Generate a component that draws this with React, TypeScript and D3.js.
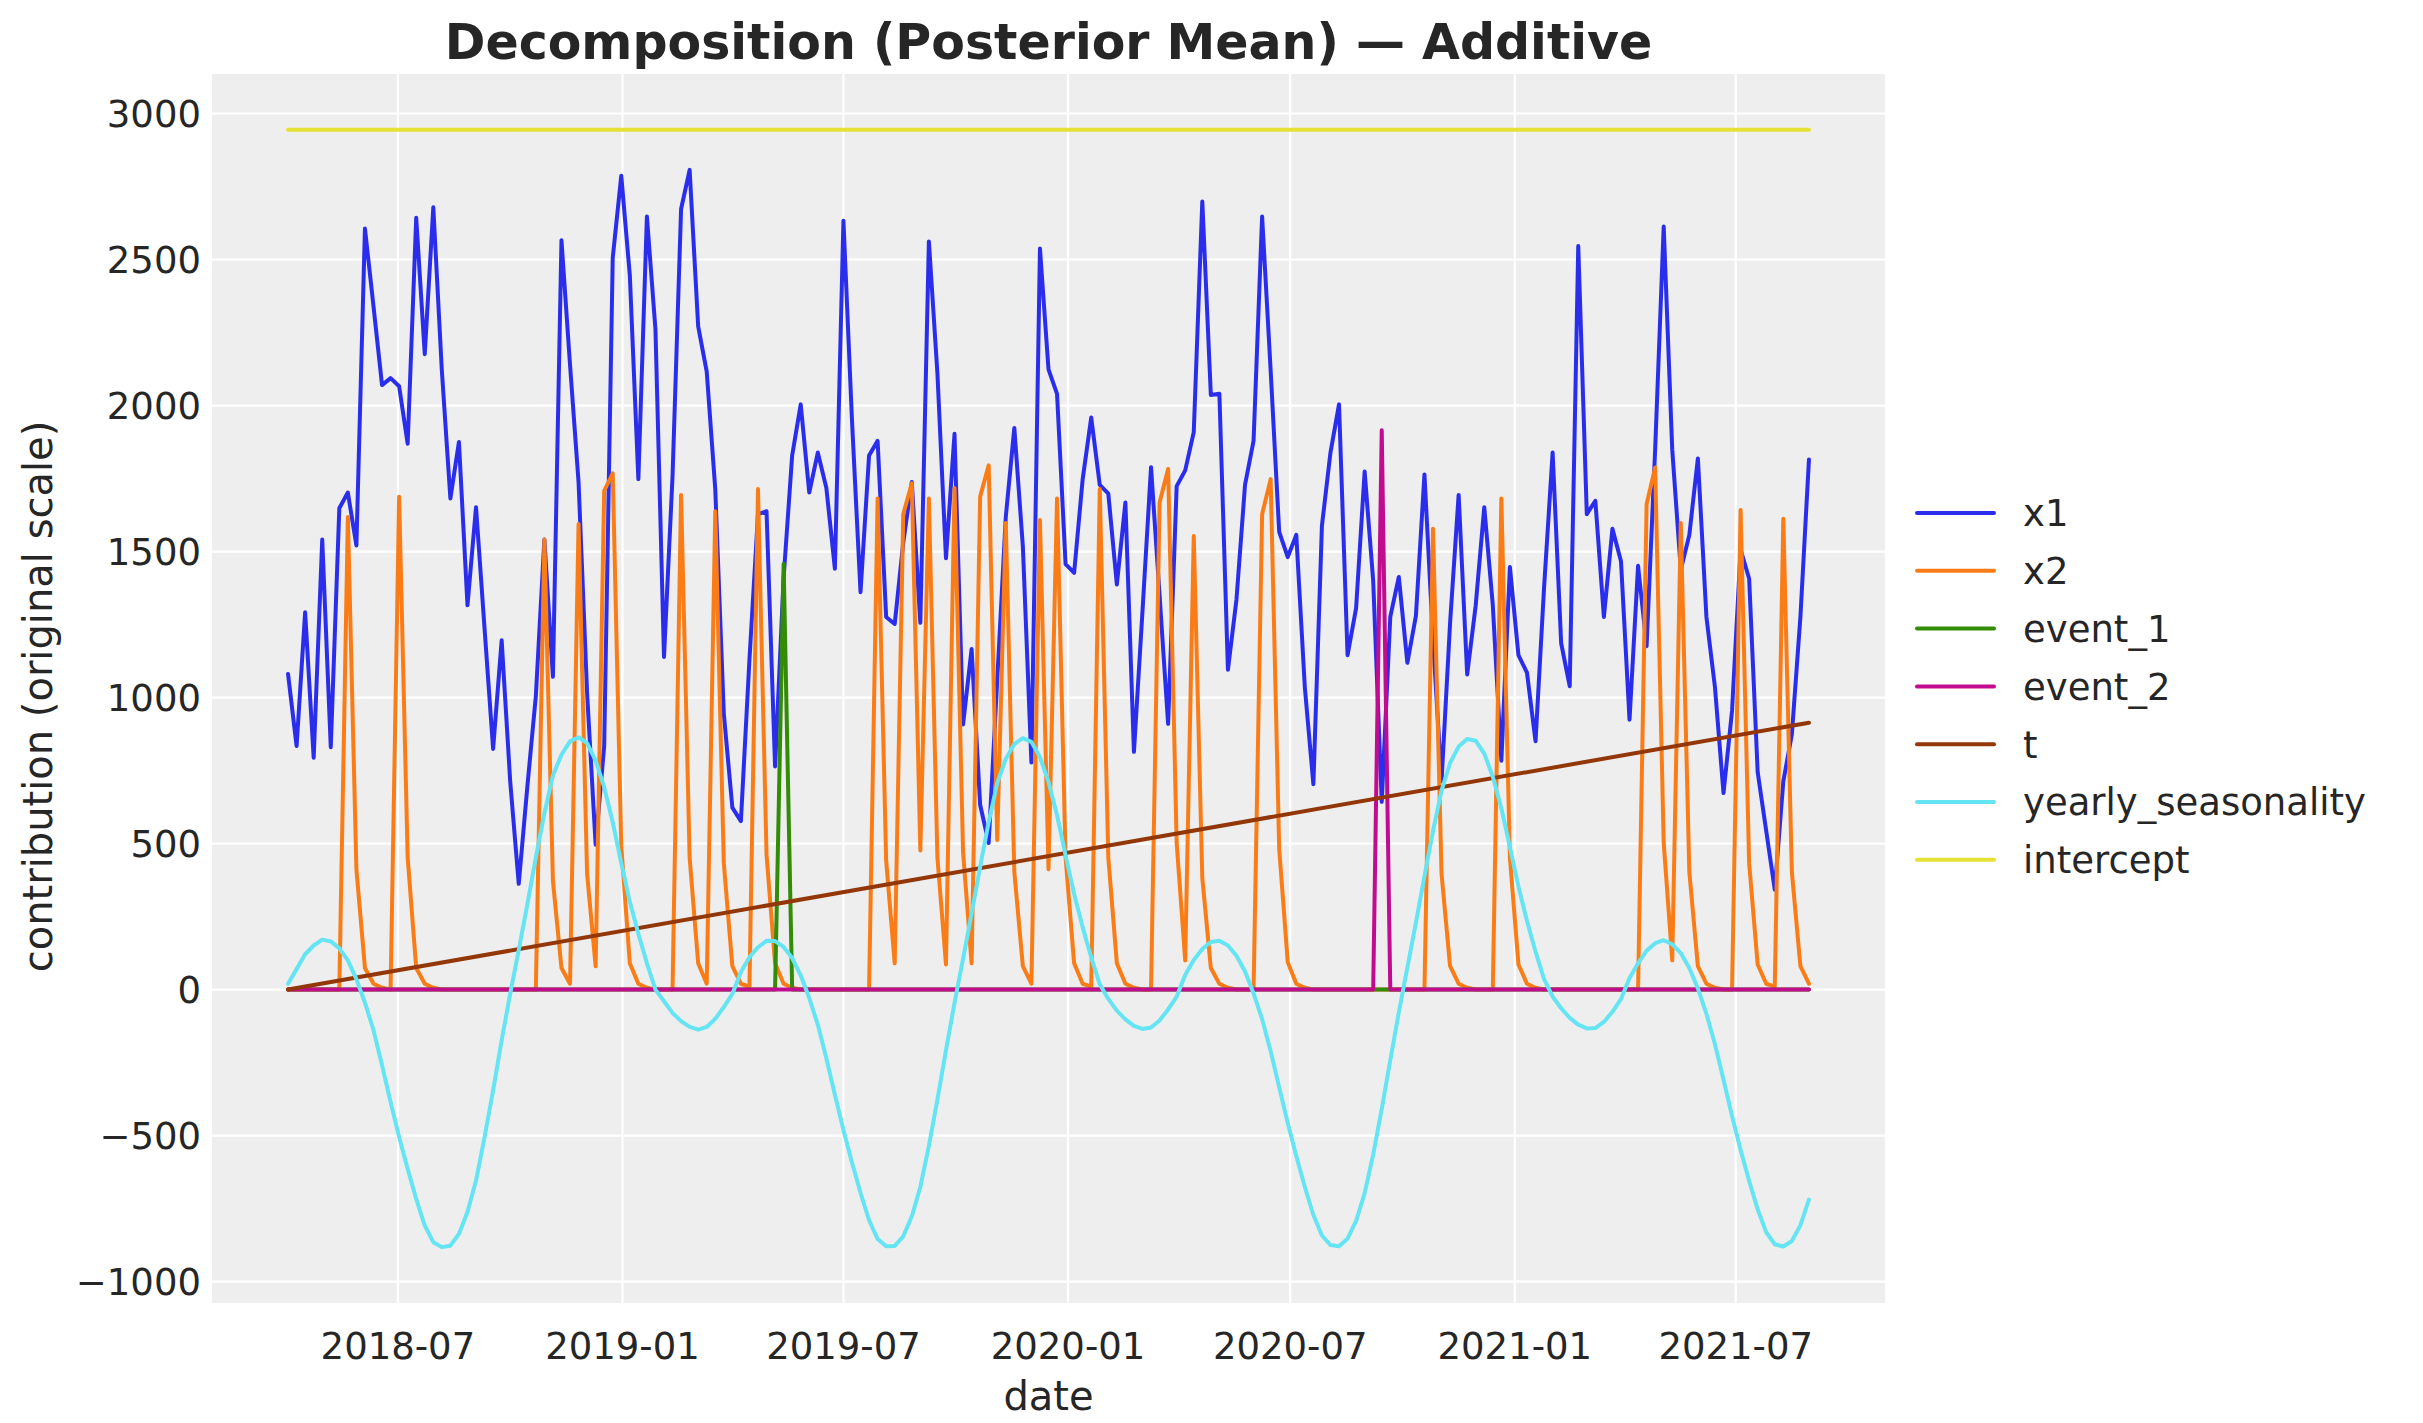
import React from 'react';
import * as d3 from 'd3';

// ---------- data ----------
const START_DATE = Date.UTC(2018, 3, 2); // 2018-04-02, weekly (Monday)
const N_WEEKS = 179;
const DATES: Date[] = d3.range(N_WEEKS).map((i) => new Date(START_DATE + i * 7 * 86400000));

const X1 = [
  1081, 834, 1292, 794, 1541, 830, 1648, 1702, 1521, 2606,
  2340, 2070, 2094, 2066, 1869, 2643, 2176, 2679, 2120, 1682,
  1875, 1316, 1652, 1236, 824, 1196, 713, 362, 693, 1005,
  1541, 1071, 2566, 2140, 1738, 1015, 496, 834, 2506, 2787,
  2446, 1748, 2647, 2261, 1139, 1758, 2673, 2807, 2271, 2116,
  1714, 945, 623, 577, 1130, 1628, 1638, 764, 1410, 1829,
  2004, 1702, 1839, 1718, 1441, 2633, 1950, 1361, 1829, 1879,
  1276, 1252, 1530, 1738, 1256, 2562, 2110, 1477, 1903, 908,
  1166, 633, 502, 1060, 1618, 1923, 1517, 778, 2538, 2124,
  2040, 1457, 1427, 1748, 1959, 1728, 1698, 1387, 1668, 814,
  1296, 1789, 1350, 910, 1724, 1778, 1909, 2699, 2036, 2040,
  1095, 1336, 1728, 1879, 2647, 2120, 1567, 1481, 1557, 1035,
  703, 1588, 1839, 2004, 1145, 1306, 1774, 1400, 643, 1276,
  1413, 1119, 1280, 1764, 1200, 713, 1256, 1694, 1079, 1316,
  1652, 1316, 784, 1447, 1145, 1085, 850, 1377, 1839, 1186,
  1039, 2546, 1628, 1674, 1276, 1578, 1467, 924, 1451, 1176,
  1850, 2613, 1849, 1437, 1557, 1819, 1276, 1035, 673, 955,
  1507, 1407, 744, 543, 342, 713, 874, 1276, 1815,
];

const X2 = [
  0, 0, 0, 0, 0, 0, 0, 1618, 412, 74,
  20, 6, 0, 1688, 452, 74, 20, 6, 0, 0,
  0, 0, 0, 0, 0, 0, 0, 0, 0, 0,
  1541, 372, 74, 20, 1594, 396, 80, 1708, 1768, 492,
  90, 20, 6, 0, 0, 0, 1694, 452, 90, 20,
  1638, 432, 80, 20, 10, 1714, 462, 90, 20, 6,
  0, 0, 0, 0, 0, 0, 0, 0, 0, 1682,
  442, 90, 1628, 1734, 476, 1682, 452, 86, 1718, 472,
  90, 1688, 1795, 512, 1598, 402, 80, 20, 1608, 412,
  1682, 452, 90, 20, 10, 1714, 452, 90, 20, 6,
  0, 0, 1668, 1783, 502, 100, 1553, 382, 74, 20,
  6, 0, 0, 0, 1628, 1748, 482, 94, 20, 6,
  0, 0, 0, 0, 0, 0, 0, 0, 0, 0,
  0, 0, 0, 0, 1578, 396, 80, 20, 6, 0,
  0, 0, 1682, 452, 86, 20, 6, 0, 0, 0,
  0, 0, 0, 0, 0, 0, 0, 0, 0, 1662,
  1788, 502, 100, 1598, 402, 80, 20, 6, 0, 0,
  1642, 432, 86, 20, 10, 1612, 402, 80, 20,
];

const EVENT_1 = [
  0, 0, 0, 0, 0, 0, 0, 0, 0, 0, 0, 0, 0, 0, 0, 0, 0, 0, 0, 0,
  0, 0, 0, 0, 0, 0, 0, 0, 0, 0, 0, 0, 0, 0, 0, 0, 0, 0, 0, 0,
  0, 0, 0, 0, 0, 0, 0, 0, 0, 0, 0, 0, 0, 0, 0, 0, 0, 0, 1457, 0,
  0, 0, 0, 0, 0, 0, 0, 0, 0, 0, 0, 0, 0, 0, 0, 0, 0, 0, 0, 0,
  0, 0, 0, 0, 0, 0, 0, 0, 0, 0, 0, 0, 0, 0, 0, 0, 0, 0, 0, 0,
  0, 0, 0, 0, 0, 0, 0, 0, 0, 0, 0, 0, 0, 0, 0, 0, 0, 0, 0, 0,
  0, 0, 0, 0, 0, 0, 0, 0, 0, 0, 0, 0, 0, 0, 0, 0, 0, 0, 0, 0,
  0, 0, 0, 0, 0, 0, 0, 0, 0, 0, 0, 0, 0, 0, 0, 0, 0, 0, 0, 0,
  0, 0, 0, 0, 0, 0, 0, 0, 0, 0, 0, 0, 0, 0, 0, 0, 0, 0, 0,
];

const EVENT_2 = [
  0, 0, 0, 0, 0, 0, 0, 0, 0, 0, 0, 0, 0, 0, 0, 0, 0, 0, 0, 0,
  0, 0, 0, 0, 0, 0, 0, 0, 0, 0, 0, 0, 0, 0, 0, 0, 0, 0, 0, 0,
  0, 0, 0, 0, 0, 0, 0, 0, 0, 0, 0, 0, 0, 0, 0, 0, 0, 0, 0, 0,
  0, 0, 0, 0, 0, 0, 0, 0, 0, 0, 0, 0, 0, 0, 0, 0, 0, 0, 0, 0,
  0, 0, 0, 0, 0, 0, 0, 0, 0, 0, 0, 0, 0, 0, 0, 0, 0, 0, 0, 0,
  0, 0, 0, 0, 0, 0, 0, 0, 0, 0, 0, 0, 0, 0, 0, 0, 0, 0, 0, 0,
  0, 0, 0, 0, 0, 0, 0, 0, 1915, 0, 0, 0, 0, 0, 0, 0, 0, 0, 0, 0,
  0, 0, 0, 0, 0, 0, 0, 0, 0, 0, 0, 0, 0, 0, 0, 0, 0, 0, 0, 0,
  0, 0, 0, 0, 0, 0, 0, 0, 0, 0, 0, 0, 0, 0, 0, 0, 0, 0, 0,
];

const YEARLY_SEASONALITY = [
  20, 70, 121, 151, 171, 165, 141, 100, 36, -45,
  -139, -259, -385, -505, -614, -717, -808, -865, -882, -877,
  -837, -762, -654, -505, -345, -174, -14, 135, 291, 452,
  603, 733, 804, 850, 864, 844, 784, 693, 573, 432,
  301, 191, 90, 0, -40, -80, -108, -128, -137, -128,
  -100, -60, -15, 60, 111, 145, 167, 166, 146, 108,
  49, -29, -120, -235, -360, -481, -592, -696, -790, -854,
  -879, -878, -845, -777, -676, -535, -377, -208, -46, 105,
  260, 420, 573, 707, 790, 841, 861, 848, 796, 711,
  597, 460, 327, 213, 110, 18, -32, -72, -102, -124,
  -135, -130, -106, -68, -24, 50, 101, 139, 163, 167,
  151, 116, 62, -13, -101, -211, -335, -457, -570, -676,
  -772, -842, -875, -879, -853, -792, -697, -565, -409, -242,
  -78, 75, 229, 388, 543, 681, 776, 832, 858, 852,
  808, 729, 621, 488, 353, 235, 130, 36, -24, -64,
  -97, -120, -133, -132, -111, -76, -33, 40, 90, 133,
  159, 169, 155, 125, 74, 4, -83, -187, -309, -433,
  -549, -655, -753, -831, -872, -880, -861, -807, -719,
];

// linear trend and constant intercept: first and last week
const TREND_VALUES = [0, 914];
const INTERCEPT_VALUES = [2944, 2944];

const SERIES_NAMES = ['x1', 'x2', 'event_1', 'event_2', 't', 'yearly_seasonality', 'intercept'];
const SERIES_COLORS = ['#2a2eec', '#fa7c17', '#328c06', '#c10c90', '#933708', '#65e5f3', '#e6e135'];

const Y_TICKS = [-1000, -500, 0, 500, 1000, 1500, 2000, 2500, 3000];
const X_TICKS = ['2018-07-01', '2019-01-01', '2019-07-01', '2020-01-01', '2020-07-01', '2021-01-01', '2021-07-01'];

const TITLE = 'Decomposition (Posterior Mean) \u2014 Additive';
const X_LABEL = 'date';
const Y_LABEL = 'contribution (original scale)';

// ---------- layout ----------
const W = 2423;
const H = 1423;
const PLOT = { left: 212, right: 1885, top: 74, bottom: 1303 };
const FONT = '"DejaVu Sans", Verdana, sans-serif';
const TEXT_COLOR = '#262626';

export default function App() {
  const t0 = DATES[0].getTime();
  const t1 = DATES[DATES.length - 1].getTime();
  const xPad = (t1 - t0) * 0.05;
  const x = d3
    .scaleUtc()
    .domain([new Date(t0 - xPad), new Date(t1 + xPad)])
    .range([PLOT.left, PLOT.right]);

  const allVals = [...X1, ...X2, ...EVENT_1, ...EVENT_2, ...TREND_VALUES, ...YEARLY_SEASONALITY, ...INTERCEPT_VALUES];
  const vMin = d3.min(allVals) as number;
  const vMax = d3.max(allVals) as number;
  const yPad = (vMax - vMin) * 0.05;
  const y = d3.scaleLinear().domain([vMin - yPad, vMax + yPad]).range([PLOT.bottom, PLOT.top]);

  const weekly = (vals: number[]) =>
    d3
      .line<number>()
      .x((_, i) => x(DATES[i]))
      .y((d) => y(d))(vals) as string;
  const endpoints = (vals: number[]) =>
    d3
      .line<number>()
      .x((_, i) => x(i === 0 ? DATES[0] : DATES[DATES.length - 1]))
      .y((d) => y(d))(vals) as string;

  const paths = [
    weekly(X1),
    weekly(X2),
    weekly(EVENT_1),
    weekly(EVENT_2),
    endpoints(TREND_VALUES),
    weekly(YEARLY_SEASONALITY),
    endpoints(INTERCEPT_VALUES),
  ];

  const fmtTick = (v: number) => (v < 0 ? '\u2212' + Math.abs(v) : String(v));
  const fmtDate = d3.utcFormat('%Y-%m');
  const xTickDates = X_TICKS.map((s) => new Date(s + 'T00:00:00Z'));

  const legendX = 1917;
  const legendY0 = 513;
  const legendStep = 57.8;

  return (
    <svg
      width={W}
      height={H}
      viewBox={`0 0 ${W} ${H}`}
      style={{ position: 'absolute', left: 0, top: 0, background: '#ffffff' }}
      fontFamily={FONT}
    >
      <defs>
        <clipPath id="plotclip">
          <rect x={PLOT.left} y={PLOT.top} width={PLOT.right - PLOT.left} height={PLOT.bottom - PLOT.top} />
        </clipPath>
      </defs>
      <rect x={0} y={0} width={W} height={H} fill="#ffffff" />
      <rect
        x={PLOT.left}
        y={PLOT.top}
        width={PLOT.right - PLOT.left}
        height={PLOT.bottom - PLOT.top}
        fill="#eeeeee"
      />
      {/* grid */}
      {Y_TICKS.map((v) => (
        <line key={'gy' + v} x1={PLOT.left} x2={PLOT.right} y1={y(v)} y2={y(v)} stroke="#ffffff" strokeWidth={2.2} />
      ))}
      {xTickDates.map((d, i) => (
        <line key={'gx' + i} x1={x(d)} x2={x(d)} y1={PLOT.top} y2={PLOT.bottom} stroke="#ffffff" strokeWidth={2.2} />
      ))}
      {/* series */}
      <g clipPath="url(#plotclip)">
        {paths.map((p, i) => (
          <path
            key={SERIES_NAMES[i]}
            d={p}
            fill="none"
            stroke={SERIES_COLORS[i]}
            strokeWidth={4}
            strokeLinejoin="round"
            strokeLinecap="round"
          />
        ))}
      </g>
      {/* y tick labels */}
      {Y_TICKS.map((v) => (
        <text
          key={'ty' + v}
          x={PLOT.left - 11}
          y={y(v)}
          dy="0.36em"
          textAnchor="end"
          fontSize={37}
          fill={TEXT_COLOR}
        >
          {fmtTick(v)}
        </text>
      ))}
      {/* x tick labels */}
      {xTickDates.map((d, i) => (
        <text key={'tx' + i} x={x(d)} y={PLOT.bottom + 56} textAnchor="middle" fontSize={37} fill={TEXT_COLOR}>
          {fmtDate(d)}
        </text>
      ))}
      {/* axis labels */}
      <text x={(PLOT.left + PLOT.right) / 2} y={1410} textAnchor="middle" fontSize={40} fill={TEXT_COLOR}>
        {X_LABEL}
      </text>
      <text
        transform={`translate(52, ${(PLOT.top + PLOT.bottom) / 2 + 8}) rotate(-90)`}
        textAnchor="middle"
        fontSize={40}
        fill={TEXT_COLOR}
      >
        {Y_LABEL}
      </text>
      {/* title */}
      <text x={(PLOT.left + PLOT.right) / 2} y={59} textAnchor="middle" fontSize={49} fontWeight="bold" fill={TEXT_COLOR}>
        {TITLE}
      </text>
      {/* legend */}
      {SERIES_NAMES.map((name, i) => (
        <g key={'lg' + name}>
          <line
            x1={legendX}
            x2={legendX + 77}
            y1={legendY0 + i * legendStep}
            y2={legendY0 + i * legendStep}
            stroke={SERIES_COLORS[i]}
            strokeWidth={4}
            strokeLinecap="round"
          />
          <text x={legendX + 106} y={legendY0 + i * legendStep} dy="0.36em" fontSize={37} fill={TEXT_COLOR}>
            {name}
          </text>
        </g>
      ))}
    </svg>
  );
}
